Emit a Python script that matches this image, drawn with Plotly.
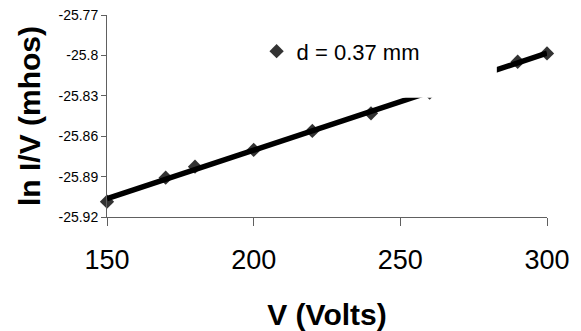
import numpy as np
import plotly.graph_objects as go

# Data
voltage = [150, 170, 180, 200, 220, 240, 260, 290, 300]
ln_i_over_v = [-25.9086, -25.8908, -25.8826, -25.8702, -25.8561, -25.843, -25.8277, -25.8047, -25.7985]
series_name = "d = 0.37 mm"
x_ticks = [150, 200, 250, 300]
y_ticks = [-25.92, -25.89, -25.86, -25.83, -25.80, -25.77]
y_tick_labels = ["-25.92", "-25.89", "-25.86", "-25.83", "-25.8", "-25.77"]

FONT = "Liberation Sans, Arial, sans-serif"

# linear trend line fitted to the data
slope, intercept = np.polyfit(voltage, ln_i_over_v, 1)
fit_x = [min(voltage), max(voltage)]
fit_y = [slope * v + intercept for v in fit_x]

fig = go.Figure()
fig.add_trace(go.Scatter(
    x=voltage, y=ln_i_over_v, mode="markers", name=series_name,
    marker=dict(symbol="diamond", size=11, color="#333333"),
    cliponaxis=False,
))
fig.add_trace(go.Scatter(
    x=fit_x, y=fit_y, mode="lines", showlegend=False,
    line=dict(color="black", width=5.5), cliponaxis=False,
))

# white legend background box that hides part of the line
fig.add_shape(type="rect", xref="paper", yref="paper",
              x0=0.36, x1=0.886, y0=0.59, y1=0.975,
              fillcolor="white", line=dict(width=0), layer="above")

fig.update_layout(
    width=581, height=331,
    margin=dict(l=107, r=34, t=15, b=114, autoexpand=False),
    paper_bgcolor="white", plot_bgcolor="white",
    font=dict(family=FONT, color="black"),
    showlegend=True,
    legend=dict(x=0.34, y=0.82, xanchor="left", yanchor="middle",
                bgcolor="rgba(0,0,0,0)", font=dict(size=22, family=FONT)),
)
fig.update_xaxes(
    range=[150, 300], tickvals=x_ticks, ticks="outside", ticklen=8,
    tickcolor="#606060", showline=True, linecolor="#606060", linewidth=1,
    showgrid=False, zeroline=False, tickfont=dict(size=27, family=FONT),
    ticklabelstandoff=11, automargin=False,
    title=dict(text="<b>V (Volts)</b>", font=dict(size=30, family=FONT), standoff=29),
)
fig.update_yaxes(
    range=[-25.92, -25.77], tickvals=y_ticks, ticktext=y_tick_labels,
    ticks="outside", ticklen=5, tickcolor="#606060",
    showline=True, linecolor="#606060", linewidth=1,
    showgrid=False, zeroline=False, tickfont=dict(size=14, family=FONT),
    automargin=False,
    title=dict(text="<b>ln I/V (mhos)</b>", font=dict(size=30, family=FONT), standoff=8),
)

fig.write_html("out.html")
